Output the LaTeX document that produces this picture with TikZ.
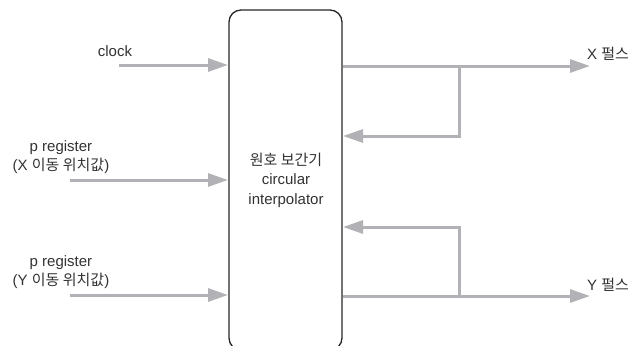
\documentclass[tikz,border=0pt]{standalone}
\usepackage{fontspec}
\setmainfont{Liberation Sans}
\newfontfamily\kr{Noto Sans CJK KR}
\usetikzlibrary{arrows.meta}
\definecolor{wire}{RGB}{178,178,182}
\definecolor{txt}{RGB}{50,50,50}
\tikzset{
  wireline/.style={draw=wire, line width=3pt, -{Triangle[length=20pt,width=13pt]}},
  plainwire/.style={draw=wire, line width=3pt},
  lbl/.style={font=\fontsize{15}{19.5}\selectfont, text=txt, inner sep=0pt, align=center},
}
\begin{document}
\begin{tikzpicture}[x=1pt,y=-1pt]
\useasboundingbox (0,0) rectangle (633,346);
\clip (0,0) rectangle (633,346);
\draw[line width=1.3pt, draw=black!85, rounded corners=12pt] (229,10) rectangle (342,350);
\node[lbl] (core) at (286,180) {{\kr 원호 보간기}\\circular\\interpolator};
% inputs
\node[lbl] (clk) at (115,51) {clock};
\coordinate (clkS) at (119,65);
\coordinate (clkE) at (228,65);
\draw[wireline] (clkS) -- (clkE);
\node[lbl] (px) at (61,157) {p register\\(X {\kr 이동 위치값})};
\coordinate (pxS) at (70,180);
\coordinate (pxE) at (228,180);
\draw[wireline] (pxS) -- (pxE);
\node[lbl] (py) at (61,272) {p register\\(Y {\kr 이동 위치값})};
\coordinate (pyS) at (70,295);
\coordinate (pyE) at (228,295);
\draw[wireline] (pyS) -- (pyE);
% X output
\coordinate (xo) at (343,66);
\coordinate (xe) at (590,66);
\coordinate (xb) at (459,66);
\coordinate (xb2) at (459,136);
\coordinate (xin) at (343,136);
\draw[wireline] (xo) -- (xe);
\draw[plainwire, -{Triangle[length=20pt,width=13pt]}] (xb) -- (xb2) -- (xin);
\node[lbl, anchor=west] (xl) at (587,54) {X {\kr 펄스}};
% Y output
\coordinate (yo) at (343,296);
\coordinate (ye) at (590,296);
\coordinate (yb) at (459,296);
\coordinate (yb2) at (459,227);
\coordinate (yin) at (343,227);
\draw[wireline] (yo) -- (ye);
\draw[plainwire, -{Triangle[length=20pt,width=13pt]}] (yb) -- (yb2) -- (yin);
\node[lbl, anchor=west] (yl) at (587,285) {Y {\kr 펄스}};
\end{tikzpicture}
\end{document}
